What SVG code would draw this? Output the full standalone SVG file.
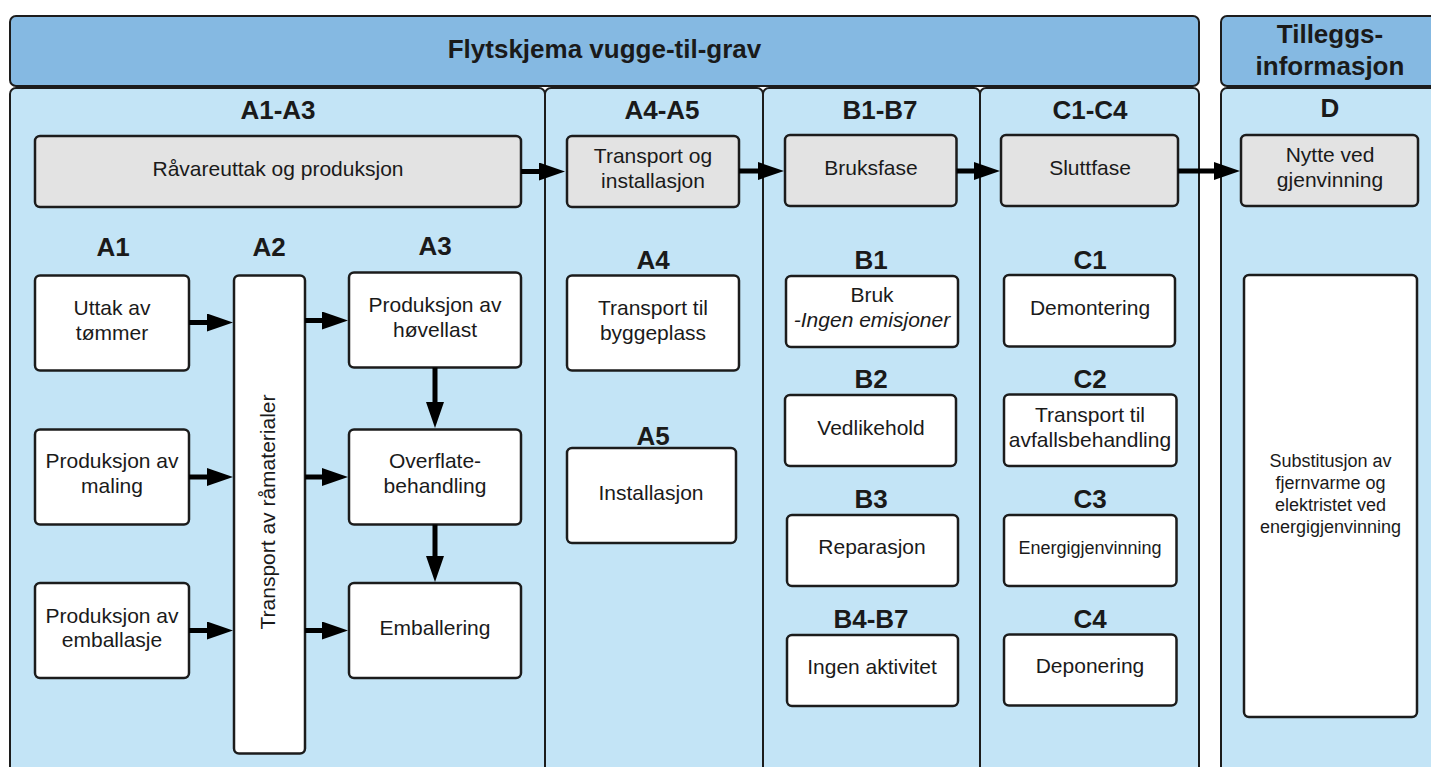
<svg xmlns="http://www.w3.org/2000/svg" width="1431" height="767" viewBox="0 0 1431 767">
<style>
text{font-family:"Liberation Sans",Arial,sans-serif;fill:#1a1a1a;text-anchor:middle}
.hdr{fill:#85b9e2;stroke:#1c1c1c;stroke-width:2}
.lane{fill:#c3e4f6;stroke:#1c1c1c;stroke-width:2}
.gbox{fill:#e3e3e3;stroke:#1c1c1c;stroke-width:2.5}
.wbox{fill:#ffffff;stroke:#1c1c1c;stroke-width:2.5}
.t{font-size:21px}
.s{font-size:18px}
.b{font-size:26px;font-weight:bold}
.conn{stroke:#000;stroke-width:5;fill:none;marker-end:url(#ah)}
</style>
<defs>
<marker id="ah" markerUnits="userSpaceOnUse" viewBox="0 0 26 18" markerWidth="26" markerHeight="18" refX="12" refY="9" orient="auto">
<path d="M0,0 L26,9 L0,18 z" fill="#000"/>
</marker>
</defs>
<rect width="1431" height="767" fill="#ffffff"/>

<g id="lanes">
<rect class="lane" x="10" y="88" width="535" height="720" rx="6"/>
<rect class="lane" x="545" y="88" width="218" height="720" rx="6"/>
<rect class="lane" x="763" y="88" width="217" height="720" rx="6"/>
<rect class="lane" x="980" y="88" width="219" height="720" rx="6"/>
<rect class="lane" x="1221" y="88" width="240" height="720" rx="6"/>
<text class="b" x="278" y="119">A1-A3</text>
<text class="b" x="662" y="119">A4-A5</text>
<text class="b" x="880" y="119">B1-B7</text>
<text class="b" x="1090" y="119">C1-C4</text>
<text class="b" x="1330" y="117">D</text>
</g>

<g id="header-main">
<rect class="hdr" x="10" y="16" width="1189" height="70" rx="6"/>
<text class="b" x="604.5" y="58">Flytskjema vugge-til-grav</text>
</g>
<g id="header-d">
<rect class="hdr" x="1221" y="16" width="240" height="70" rx="6"/>
<text class="b" x="1330" y="43">Tilleggs-</text>
<text class="b" x="1330" y="75">informasjon</text>
</g>

<g id="labels">
<text class="b" x="113" y="256">A1</text>
<text class="b" x="269" y="256">A2</text>
<text class="b" x="435" y="255">A3</text>
<text class="b" x="653" y="269">A4</text>
<text class="b" x="653" y="445">A5</text>
<text class="b" x="871" y="269">B1</text>
<text class="b" x="871" y="388">B2</text>
<text class="b" x="871" y="508">B3</text>
<text class="b" x="871" y="628">B4-B7</text>
<text class="b" x="1090" y="269">C1</text>
<text class="b" x="1090" y="388">C2</text>
<text class="b" x="1090" y="508">C3</text>
<text class="b" x="1090" y="628">C4</text>
</g>

<g id="n-ravare"><rect class="gbox" x="35" y="136" width="486" height="71" rx="5"/><text class="t" x="278" y="176">Råvareuttak og produksjon</text></g>
<g id="n-transport-inst"><rect class="gbox" x="567" y="136" width="172" height="71" rx="5"/><text class="t" x="653" y="163">Transport og</text><text class="t" x="653" y="188">installasjon</text></g>
<g id="n-bruksfase"><rect class="gbox" x="785" y="135" width="171.5" height="71" rx="5"/><text class="t" x="871" y="175">Bruksfase</text></g>
<g id="n-sluttfase"><rect class="gbox" x="1001" y="135" width="177" height="71" rx="5"/><text class="t" x="1090" y="175">Sluttfase</text></g>
<g id="n-nytte"><rect class="gbox" x="1241" y="135" width="177" height="71" rx="5"/><text class="t" x="1330" y="162">Nytte ved</text><text class="t" x="1330" y="187">gjenvinning</text></g>

<g id="n-uttak"><rect class="wbox" x="35" y="275.5" width="154" height="95" rx="5"/><text class="t" x="112" y="315">Uttak av</text><text class="t" x="112" y="340">tømmer</text></g>
<g id="n-maling"><rect class="wbox" x="35" y="429.5" width="154" height="95" rx="5"/><text class="t" x="112" y="468">Produksjon av</text><text class="t" x="112" y="493">maling</text></g>
<g id="n-emballasje"><rect class="wbox" x="35" y="583" width="154" height="95" rx="5"/><text class="t" x="112" y="623">Produksjon av</text><text class="t" x="112" y="647">emballasje</text></g>
<g id="n-a2"><rect class="wbox" x="234" y="275.5" width="71" height="478" rx="5"/><text class="t" transform="translate(275 512) rotate(-90)">Transport av råmaterialer</text></g>
<g id="n-hovellast"><rect class="wbox" x="349" y="272.5" width="172" height="95" rx="5"/><text class="t" x="435" y="312">Produksjon av</text><text class="t" x="435" y="337">høvellast</text></g>
<g id="n-overflate"><rect class="wbox" x="349" y="429.5" width="172" height="95" rx="5"/><text class="t" x="435" y="468">Overflate-</text><text class="t" x="435" y="493">behandling</text></g>
<g id="n-emballering"><rect class="wbox" x="349" y="583" width="172" height="95" rx="5"/><text class="t" x="435" y="635">Emballering</text></g>

<g id="n-a4"><rect class="wbox" x="567" y="275.5" width="172" height="95" rx="5"/><text class="t" x="653" y="315">Transport til</text><text class="t" x="653" y="340">byggeplass</text></g>
<g id="n-a5"><rect class="wbox" x="567" y="448" width="169" height="95" rx="5"/><text class="t" x="651" y="500">Installasjon</text></g>

<g id="n-b1"><rect class="wbox" x="786" y="276" width="172" height="71" rx="5"/><text class="t" x="872" y="302">Bruk</text><text class="t" x="872" y="327" font-style="italic">-Ingen emisjoner</text></g>
<g id="n-b2"><rect class="wbox" x="785" y="395" width="171" height="71" rx="5"/><text class="t" x="871" y="435">Vedlikehold</text></g>
<g id="n-b3"><rect class="wbox" x="787" y="515" width="171" height="71" rx="5"/><text class="t" x="872" y="554">Reparasjon</text></g>
<g id="n-b4b7"><rect class="wbox" x="787" y="635" width="171" height="71" rx="5"/><text class="t" x="872" y="674">Ingen aktivitet</text></g>

<g id="n-c1"><rect class="wbox" x="1004" y="275" width="171" height="71.5" rx="5"/><text class="t" x="1090" y="315">Demontering</text></g>
<g id="n-c2"><rect class="wbox" x="1004" y="394.5" width="172.5" height="71.5" rx="5"/><text class="t" x="1090" y="422">Transport til</text><text class="t" x="1090" y="447">avfallsbehandling</text></g>
<g id="n-c3"><rect class="wbox" x="1004" y="515" width="172.5" height="71" rx="5"/><text class="s" x="1090" y="554">Energigjenvinning</text></g>
<g id="n-c4"><rect class="wbox" x="1004" y="634.5" width="172.5" height="71" rx="5"/><text class="t" x="1090" y="673">Deponering</text></g>

<g id="n-d"><rect class="wbox" x="1244" y="275" width="173" height="442" rx="5"/><text class="s" x="1330.5" y="467">Substitusjon av</text><text class="s" x="1330.5" y="489">fjernvarme og</text><text class="s" x="1330.5" y="511">elektristet ved</text><text class="s" x="1330.5" y="533">energigjenvinning</text></g>

<g id="connectors">
<line class="conn" x1="521" y1="171.5" x2="551" y2="171.5"/>
<line class="conn" x1="739" y1="171" x2="770" y2="171"/>
<line class="conn" x1="956.5" y1="171" x2="986" y2="171"/>
<line class="conn" x1="1178" y1="171" x2="1226" y2="171"/>
<line class="conn" x1="189" y1="322.5" x2="219" y2="322.5"/>
<line class="conn" x1="189" y1="477" x2="219" y2="477"/>
<line class="conn" x1="189" y1="630.5" x2="219" y2="630.5"/>
<line class="conn" x1="305" y1="320.5" x2="334" y2="320.5"/>
<line class="conn" x1="305" y1="477" x2="334" y2="477"/>
<line class="conn" x1="305" y1="630.5" x2="334" y2="630.5"/>
<line class="conn" x1="435" y1="367.5" x2="435" y2="414"/>
<line class="conn" x1="435" y1="524.5" x2="435" y2="568"/>
</g>
</svg>
